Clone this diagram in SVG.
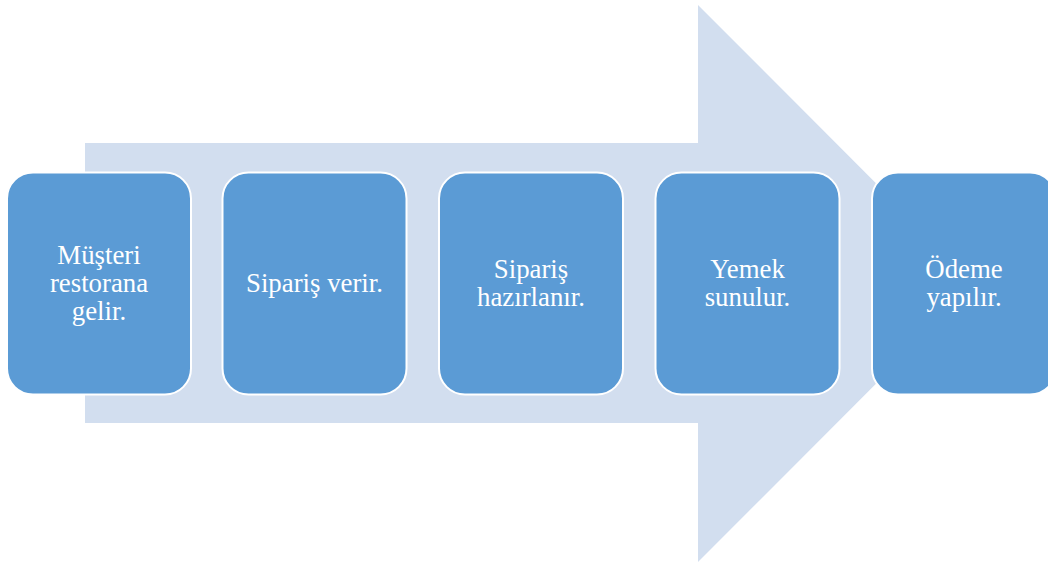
<svg xmlns="http://www.w3.org/2000/svg" width="1048" height="567" viewBox="0 0 1048 567">
<style>
.box{fill:#5b9bd5;stroke:#ffffff;stroke-width:2}
.t{font-family:"Liberation Serif","Times New Roman",serif;font-size:26.8px;fill:#ffffff;text-anchor:middle}
</style>
<rect width="1048" height="567" fill="#ffffff"/>
<g id="arrow">
<polygon points="85,143 698,143 698,5 976,283.5 698,562 698,423 85,423" fill="#d2deef"/>
</g>
<g id="connectors"></g>
<g id="n1"><rect class="box" x="7" y="172.5" width="184" height="222" rx="26"/><text class="t" x="99" y="264">Müşteri</text><text class="t" x="99" y="292">restorana</text><text class="t" x="99" y="320">gelir.</text></g>
<g id="n2"><rect class="box" x="222.5" y="172.5" width="184" height="222" rx="26"/><text class="t" x="314.5" y="292">Sipariş verir.</text></g>
<g id="n3"><rect class="box" x="439" y="172.5" width="184" height="222" rx="26"/><text class="t" x="531" y="278">Sipariş</text><text class="t" x="531" y="306">hazırlanır.</text></g>
<g id="n4"><rect class="box" x="655.5" y="172.5" width="184" height="222" rx="26"/><text class="t" x="747.5" y="278">Yemek</text><text class="t" x="747.5" y="306">sunulur.</text></g>
<g id="n5"><rect class="box" x="872" y="172.5" width="184" height="222" rx="26"/><text class="t" x="964" y="278">Ödeme</text><text class="t" x="964" y="306">yapılır.</text></g>
</svg>
